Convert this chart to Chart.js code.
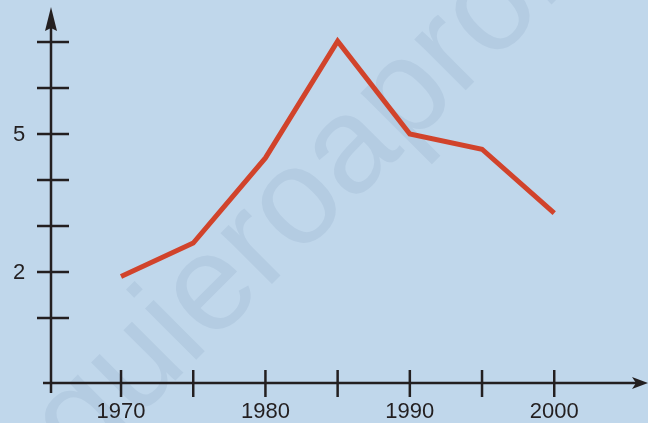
<!DOCTYPE html>
<html>
<head>
<meta charset="utf-8">
<script src="https://cdn.jsdelivr.net/npm/chart.js@4.4.1/dist/chart.umd.min.js"></script>
<style>
  html, body { margin: 0; padding: 0; background: #c0d7eb; }
  #wrap { width: 648px; height: 423px; }
</style>
</head>
<body>
<div id="wrap"><canvas id="chart"></canvas></div>
<script>
// données du graphique
const years = [1970, 1975, 1980, 1985, 1990, 1995, 2000];
const values = [1.9, 2.63, 4.48, 7.02, 5.0, 4.67, 3.28];
const yTicks = [1, 2, 3, 4, 5, 6, 7];
const yLabels = [2, 5];
const xTicks = [1970, 1975, 1980, 1985, 1990, 1995, 2000];
const xLabels = [1970, 1980, 1990, 2000];
const watermark = "quieroaprobar";

const ink = "#231f20";

// fond + filigrane
const backdrop = {
    id: "backdrop",
    beforeDraw(chart) {
        const ctx = chart.ctx;
        ctx.save();
        ctx.fillStyle = "#c0d7eb";
        ctx.fillRect(0, 0, chart.width, chart.height);
        ctx.translate(82, 474);
        ctx.rotate(-Math.PI / 4);
        ctx.font = "137px 'Liberation Sans', Arial, sans-serif";
        ctx.fillStyle = "#b4cce2";
        ctx.textBaseline = "alphabetic";
        ctx.fillText(watermark, 0, 0);
        ctx.restore();
    }
};

// axes avec flèches, graduations et étiquettes
const axes = {
    id: "axes",
    beforeDatasetsDraw(chart) {
        const ctx = chart.ctx;
        const x = chart.scales.x, y = chart.scales.y;
        const x0 = x.getPixelForValue(x.min);
        const y0 = y.getPixelForValue(y.min);
        ctx.save();
        ctx.strokeStyle = ink;
        ctx.fillStyle = ink;
        ctx.lineWidth = 2.5;

        // axe vertical
        ctx.beginPath();
        ctx.moveTo(x0, y0 + 10);
        ctx.lineTo(x0, 28);
        ctx.stroke();
        ctx.beginPath();
        ctx.moveTo(x0, 7);
        ctx.lineTo(x0 + 6, 31);
        ctx.lineTo(x0, 28);
        ctx.lineTo(x0 - 6, 31);
        ctx.closePath();
        ctx.fill();

        // axe horizontal
        ctx.beginPath();
        ctx.moveTo(x0 - 8, y0);
        ctx.lineTo(636, y0);
        ctx.stroke();
        ctx.beginPath();
        ctx.moveTo(648, y0);
        ctx.lineTo(632, y0 - 6);
        ctx.lineTo(636, y0);
        ctx.lineTo(632, y0 + 6);
        ctx.closePath();
        ctx.fill();

        // graduations
        yTicks.forEach(v => {
            const py = y.getPixelForValue(v);
            ctx.beginPath();
            ctx.moveTo(x0 - 14, py);
            ctx.lineTo(x0 + 18, py);
            ctx.stroke();
        });
        xTicks.forEach(v => {
            const px = x.getPixelForValue(v);
            ctx.beginPath();
            ctx.moveTo(px, y0 - 13);
            ctx.lineTo(px, y0 + 14);
            ctx.stroke();
        });

        ctx.font = "22px 'Liberation Sans', Arial, sans-serif";
        ctx.textAlign = "center";
        ctx.textBaseline = "middle";
        yLabels.forEach(v => ctx.fillText(String(v), 19, y.getPixelForValue(v) + 1));
        xLabels.forEach(v => ctx.fillText(String(v), x.getPixelForValue(v), 412));
        ctx.restore();
    }
};

new Chart(document.getElementById("chart"), {
    type: "line",
    data: {
        datasets: [{
            data: years.map((yr, i) => ({ x: yr, y: values[i] })),
            borderColor: "#d1432b",
            borderWidth: 5,
            pointRadius: 0,
            tension: 0,
            fill: false
        }]
    },
    options: {
        responsive: true,
        maintainAspectRatio: false,
        animation: false,
        layout: { padding: { left: 51, right: 8, top: 10, bottom: 40 } },
        scales: {
            x: { type: "linear", min: 1965.15, max: 2005.94, display: false },
            y: { type: "linear", min: -0.413, max: 7.696, display: false }
        },
        plugins: { legend: { display: false }, tooltip: { enabled: false } }
    },
    plugins: [backdrop, axes]
});
</script>
</body>
</html>
